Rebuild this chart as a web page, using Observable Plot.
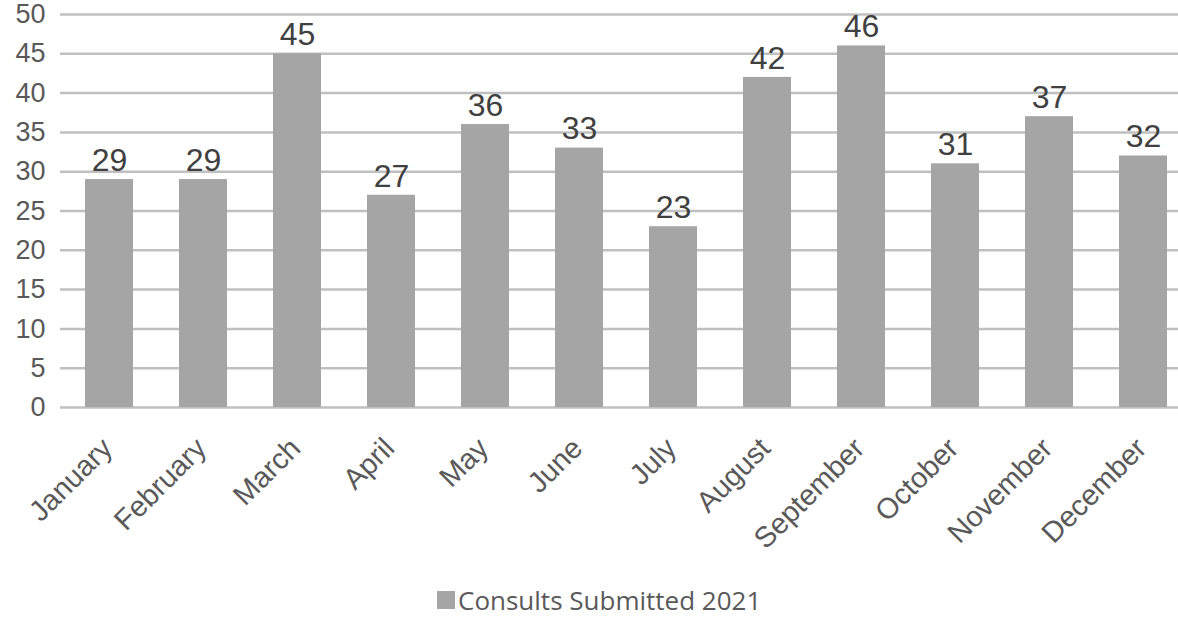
<!DOCTYPE html>
<html><head><meta charset="utf-8">
<script src="https://cdn.jsdelivr.net/npm/d3@7"></script>
<script src="https://cdn.jsdelivr.net/npm/@observablehq/plot@0.6"></script>
<style>
body{margin:0;background:#fff;position:relative;width:1178px;height:618px;}
#legend{position:absolute;left:437px;top:586px;height:28px;font-family:"Open Sans",sans-serif;font-size:26px;line-height:28px;color:#595959;display:flex;align-items:center;white-space:nowrap;}
#legend span{line-height:28px;}
#legend span.sw{display:inline-block;width:18px;height:18px;background:#a5a5a5;margin-right:3px;}
</style></head><body>
<div id="chart"></div>
<div id="legend"><span class="sw"></span><span>Consults Submitted 2021</span></div>
<script>
const months = ["January","February","March","April","May","June","July","August","September","October","November","December"];
const consults = [29,29,45,27,36,33,23,42,46,31,37,32];
const yTicks = [0,5,10,15,20,25,30,35,40,45,50];
const data = months.map((m,i)=>({month:m, value:consults[i]}));
const chart = Plot.plot({
  width:1178, height:586,
  marginTop:14, marginBottom:179, marginLeft:60, marginRight:0,
  style:{fontFamily:"'Liberation Sans', Arial, sans-serif", background:"#fff", overflow:"hidden"},
  x:{domain:months, range:[60,1192], paddingInner:0.49, paddingOuter:0.245, label:null, axis:null},
  y:{domain:[0,50], ticks:yTicks, label:null, axis:null},
  marks:[
    Plot.ruleY(yTicks,{stroke:"#c0c0c0", strokeWidth:2.5}),
    Plot.barY(data,{x:"month", y:"value", fill:"#a5a5a5"}),
    Plot.text(data,{x:"month", y:"value", text:d=>String(d.value), dy:-19, fontSize:32, fill:"#404040"}),
    Plot.axisY({ticks:yTicks, tickSize:0, tickPadding:15, fontSize:27, color:"#595959", label:null}),
    Plot.text(months,{x:d=>d, y:0, text:d=>d, rotate:-45, textAnchor:"end", lineAnchor:"top", dy:28, dx:-10, fontSize:29, fill:"#595959"})
  ]
});
document.getElementById("chart").append(chart);
</script></body></html>
